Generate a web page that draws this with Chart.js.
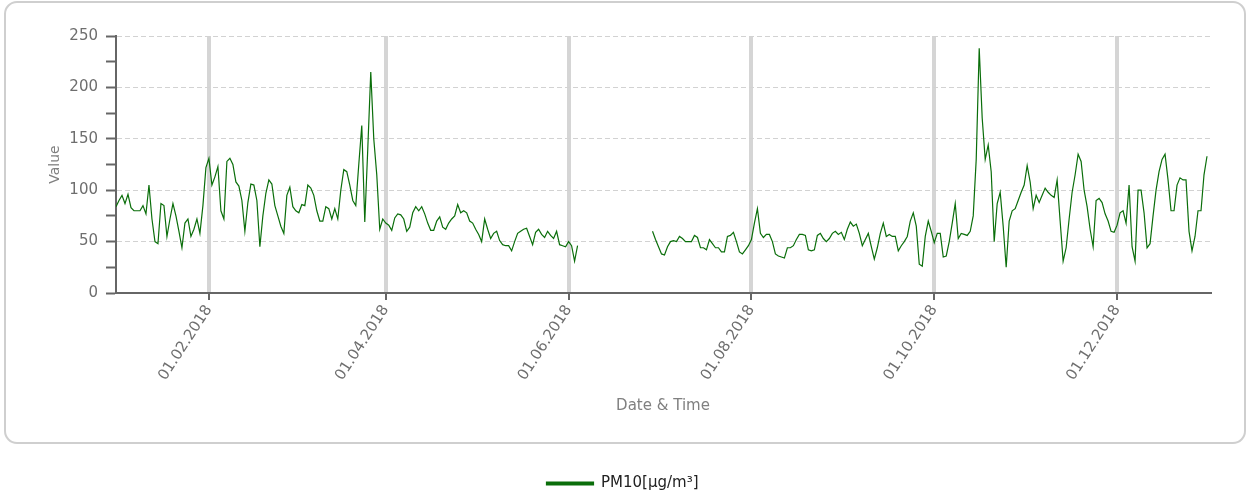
<!DOCTYPE html>
<html>
<head>
<meta charset="utf-8">
<title>PM10 2018</title>
<script src="https://cdn.jsdelivr.net/npm/chart.js@4.4.1/dist/chart.umd.min.js"></script>
<style>
  html, body { margin: 0; padding: 0; background: #fff; overflow: hidden; }
  #wrap { width: 1255px; height: 497px; overflow: hidden; }
</style>
</head>
<body>
<div id="wrap"><canvas id="pmChart" width="1255" height="501"></canvas></div>
<script>
// daily PM10 values 2018 (null = no data)
const jan = [84,90,95,87,96,83,80,80,80,85,77,105,72,50,48,87,85,55,72,87,75,60,44,68,72,55,62,72,58,85,122];
const feb = [131,105,113,123,80,72,128,131,125,108,104,90,60,88,106,105,90,45,75,97,110,106,85,75,65,58,95,103];
const mar = [84,80,78,86,85,105,102,95,80,70,70,84,82,72,82,72,100,120,118,105,90,85,125,163,69,140,215,150,115,62,72];
const apr = [68,66,61,73,77,76,72,60,64,78,84,80,84,77,68,61,61,70,74,64,62,68,72,75,86,78,80,78,70,68];
const may = [62,57,50,72,62,53,58,60,51,47,46,46,41,50,58,60,62,63,55,47,59,62,57,54,60,56,53,60,47,46,45];
const jun = [50,46,31,46,null,null,null,null,null,null,null,null,null,null,null,null,null,null,null,null,null,null,null,null,null,null,null,null,60,52];
const jul = [45,38,37,45,50,51,50,55,53,50,50,50,56,54,44,44,42,52,48,44,44,40,40,55,56,59,50,40,38,42,46];
const aug = [52,68,82,58,54,57,57,50,38,36,35,34,44,44,46,52,57,57,56,42,41,42,56,58,53,50,53,58,60,57,59];
const sep = [52,62,69,65,67,58,46,52,58,45,33,44,58,68,55,57,55,55,41,46,50,55,70,78,65,28,26,55,70,60];
const oct = [49,58,58,35,36,50,68,87,53,58,57,56,60,75,130,238,170,130,144,118,50,87,98,65,25,70,80,82,90,98,105];
const nov = [124,108,82,95,88,95,102,98,95,93,110,70,31,44,72,98,115,135,128,100,84,62,45,90,92,88,77,70,60,59];
const dec = [66,78,80,68,105,45,31,100,100,78,44,48,75,100,118,130,135,110,80,80,105,112,110,110,60,41,55,80,80,115,133];

// x ticks: day of year (0 = 01.01.2018)
const tickDays = [31, 90, 151, 212, 273, 334];
const tickLabels = ["01.02.2018", "01.04.2018", "01.06.2018", "01.08.2018", "01.10.2018", "01.12.2018"];

const seriesName = "PM10[µg/m³]";
const lineColor = "#0a6e0a";

const values = [].concat(jan, feb, mar, apr, may, jun, jul, aug, sep, oct, nov, dec);
const points = values.map((v, i) => ({ x: i, y: v }));

// grey rounded frame behind the plot
const framePlugin = {
  id: "frame",
  beforeDraw(chart) {
    const ctx = chart.ctx;
    ctx.save();
    ctx.fillStyle = "#ffffff";
    ctx.fillRect(0, 0, chart.width, chart.height);
    ctx.strokeStyle = "#cfcfcf";
    ctx.lineWidth = 2;
    ctx.beginPath();
    ctx.roundRect(5, 2, chart.width - 15, 441, 12);
    ctx.stroke();
    ctx.restore();
  }
};

const ctx = document.getElementById("pmChart").getContext("2d");
new Chart(ctx, {
  type: "line",
  data: {
    datasets: [{
      label: seriesName,
      data: points,
      borderColor: lineColor,
      backgroundColor: lineColor,
      borderWidth: 1.2,
      pointRadius: 0,
      tension: 0,
      spanGaps: false
    }]
  },
  options: {
    responsive: false,
    animation: false,
    layout: { padding: { top: 36, right: 45, left: 35, bottom: 0 } },
    plugins: {
      tooltip: { enabled: false },
      legend: {
        position: "bottom",
        labels: {
          boxWidth: 47,
          boxHeight: 3,
          padding: 8,
          color: "#222",
          font: { family: "DejaVu Sans", size: 15 }
        }
      }
    },
    scales: {
      x: {
        type: "linear",
        min: 0,
        max: 365,
        afterBuildTicks: (scale) => { scale.ticks = tickDays.map(v => ({ value: v })); },
        afterFit: (scale) => { scale.height = 175; },
        ticks: {
          autoSkip: false,
          minRotation: 57,
          maxRotation: 57,
          padding: 2,
          color: "#6e6e6e",
          font: { family: "DejaVu Sans", size: 15 },
          callback: (v, i) => tickLabels[i]
        },
        grid: {
          color: "#d5d5d5",
          lineWidth: 4,
          tickColor: "#666",
          tickWidth: 2,
          tickLength: 7
        },
        border: { color: "#666", width: 2 },
        title: {
          display: true,
          text: "Date & Time",
          color: "#808080",
          font: { family: "DejaVu Sans", size: 15 },
          padding: { top: 4, bottom: 53 }
        }
      },
      y: {
        min: 0,
        max: 250,
        afterFit: (scale) => { scale.width = 81; },
        ticks: {
          stepSize: 25,
          padding: 8,
          color: "#6e6e6e",
          font: { family: "DejaVu Sans", size: 15 },
          callback: (v) => (v % 50 === 0 ? v : "")
        },
        grid: {
          color: (c) => (c.tick && c.tick.value % 50 === 0 && c.tick.value > 0 ? "#d2d2d2" : "rgba(0,0,0,0)"),
          lineWidth: 1,
          tickColor: "#666",
          tickWidth: 2,
          tickLength: 10,
          tickBorderDash: []
        },
        border: { color: "#666", width: 2, dash: [5, 3] },
        title: {
          display: true,
          text: "Value",
          color: "#808080",
          font: { family: "DejaVu Sans", size: 14 },
          padding: { top: 12, bottom: 0 }
        }
      }
    }
  },
  plugins: [framePlugin]
});
</script>
</body>
</html>
